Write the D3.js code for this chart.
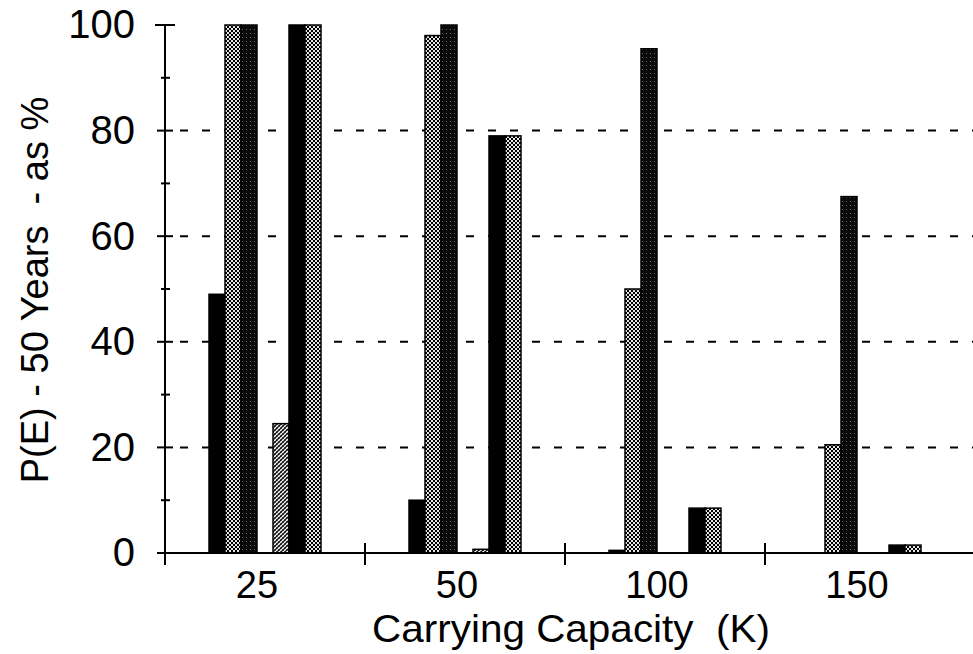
<!DOCTYPE html>
<html><head><meta charset="utf-8">
<script src="https://cdn.jsdelivr.net/npm/d3@7"></script>
<style>html,body{margin:0;padding:0;background:#fff;}svg{display:block;}</style>
</head><body>
<svg id="chart" width="973" height="654"></svg>
<script>
const categories = ["25", "50", "100", "150"];
const seriesKeys = ["s1", "s2", "s3", "gap", "s4", "s5", "s6"];
const s1 = [49, 10, 0.5, 0];
const s2 = [100, 98, 50, 20.5];
const s3 = [100, 100, 95.5, 67.5];
const s4 = [24.5, 0.7, 0, 0];
const s5 = [100, 79, 8.5, 1.5];
const s6 = [100, 79, 8.5, 1.5];
const yTicks = [0, 20, 40, 60, 80, 100];
const yMinor = [10, 30, 50, 70, 90];
const gridTicks = [20, 40, 60, 80];

const seriesData = {s1, s2, s3, s4, s5, s6};
const seriesFill = {s1: "#000", s2: "url(#checker)", s3: "url(#darkdot)", s4: "url(#hatch)", s5: "#000", s6: "url(#checker)"};

const svg = d3.select("#chart");
const defs = svg.append("defs");
// checker pattern
let p = defs.append("pattern").attr("id", "checker").attr("width", 4).attr("height", 4).attr("patternUnits", "userSpaceOnUse");
p.append("rect").attr("width", 4).attr("height", 4).attr("fill", "#e6e6e6");
p.append("rect").attr("x", 0).attr("y", 0).attr("width", 2).attr("height", 2).attr("fill", "#000");
p.append("rect").attr("x", 2).attr("y", 2).attr("width", 2).attr("height", 2).attr("fill", "#000");
// dark dotted
p = defs.append("pattern").attr("id", "darkdot").attr("width", 4).attr("height", 4).attr("patternUnits", "userSpaceOnUse");
p.append("rect").attr("width", 4).attr("height", 4).attr("fill", "#0a0a0a");
p.append("rect").attr("x", 1).attr("y", 1).attr("width", 1).attr("height", 1).attr("fill", "#666");
// hatch
p = defs.append("pattern").attr("id", "hatch").attr("width", 4).attr("height", 4).attr("patternUnits", "userSpaceOnUse");
p.append("rect").attr("width", 4).attr("height", 4).attr("fill", "#fff");
p.append("path").attr("d", "M0,4 L4,0 M-1,1 L1,-1 M3,5 L5,3").attr("stroke", "#111").attr("stroke-width", 1.3);
p.append("path").attr("d", "M0,0 L4,4").attr("stroke", "#444").attr("stroke-width", 0.9);

const yAxisX = 165;
const x0 = d3.scaleBand().domain(categories).range([165, 965]).padding(0);
const x1 = d3.scaleBand().domain(seriesKeys).range([0, 112]).padding(0);
const y = d3.scaleLinear().domain([0, 100]).range([553, 25]);

// gridlines
svg.append("g").selectAll("line").data(gridTicks).join("line")
  .attr("x1", 180).attr("x2", 973)
  .attr("y1", d => y(d)).attr("y2", d => y(d))
  .attr("stroke", "#000").attr("stroke-width", 2).attr("stroke-dasharray", "8,14");

// bars
const groups = svg.append("g").selectAll("g").data(categories).join("g")
  .attr("transform", d => `translate(${x0(d) + x0.bandwidth() / 2 - 56},0)`);
groups.selectAll("rect")
  .data((c, i) => ["s1", "s2", "s3", "s4", "s5", "s6"].map(k => ({k, v: seriesData[k][i]})))
  .join("rect")
  .attr("x", d => x1(d.k))
  .attr("width", x1.bandwidth())
  .attr("y", d => y(d.v))
  .attr("height", d => y(0) - y(d.v))
  .attr("fill", d => seriesFill[d.k])
  .attr("stroke", "#000")
  .attr("stroke-width", d => d.v > 0 ? 1.5 : 0);

// x axis line
svg.append("line").attr("x1", yAxisX).attr("x2", 973).attr("y1", y(0)).attr("y2", y(0))
  .attr("stroke", "#000").attr("stroke-width", 2);
// separators
svg.append("g").selectAll("line").data(categories.slice(1)).join("line")
  .attr("x1", d => x0(d)).attr("x2", d => x0(d))
  .attr("y1", y(0) - 10).attr("y2", y(0) + 12)
  .attr("stroke", "#000").attr("stroke-width", 2);

// y axis
const yAxis = d3.axisLeft(y).tickValues(yTicks).tickSize(0).tickPadding(30).tickFormat(d3.format("d"));
const gy = svg.append("g").attr("transform", `translate(${yAxisX},0)`).call(yAxis);
gy.select(".domain").remove();
gy.selectAll("text").attr("font-family", "Liberation Sans, Arial, sans-serif").attr("font-size", 40).attr("fill", "#000");
svg.append("line").attr("x1", yAxisX).attr("x2", yAxisX).attr("y1", y(100)).attr("y2", y(0) + 12)
  .attr("stroke", "#000").attr("stroke-width", 2);
svg.append("g").selectAll("line").data(yTicks).join("line")
  .attr("x1", d => yAxisX - (d === 100 ? 10 : 8)).attr("x2", d => yAxisX + (d === 100 ? 10 : 8))
  .attr("y1", d => y(d)).attr("y2", d => y(d)).attr("stroke", "#000").attr("stroke-width", 2);
svg.append("g").selectAll("line").data(yMinor).join("line")
  .attr("x1", yAxisX - 4).attr("x2", yAxisX + 5)
  .attr("y1", d => y(d)).attr("y2", d => y(d)).attr("stroke", "#000").attr("stroke-width", 2);

// category labels
svg.append("g").selectAll("text").data(categories).join("text")
  .attr("x", d => x0(d) + x0.bandwidth() / 2 - 8)
  .attr("y", 598)
  .attr("text-anchor", "middle")
  .attr("font-family", "Liberation Sans, Arial, sans-serif").attr("font-size", 38)
  .text(d => d);

// x title
svg.append("text").attr("x", 571).attr("y", 642).attr("text-anchor", "middle")
  .attr("font-family", "Liberation Sans, Arial, sans-serif").attr("font-size", 39)
  .attr("textLength", 398).attr("lengthAdjust", "spacingAndGlyphs")
  .attr("xml:space", "preserve")
  .text("Carrying Capacity  (K)");

// y title
svg.append("text").attr("transform", "translate(48,290) rotate(-90)").attr("text-anchor", "middle")
  .attr("font-family", "Liberation Sans, Arial, sans-serif").attr("font-size", 38)
  .attr("xml:space", "preserve")
  .text("P(E) - 50 Years  - as %");
</script>
</body></html>
